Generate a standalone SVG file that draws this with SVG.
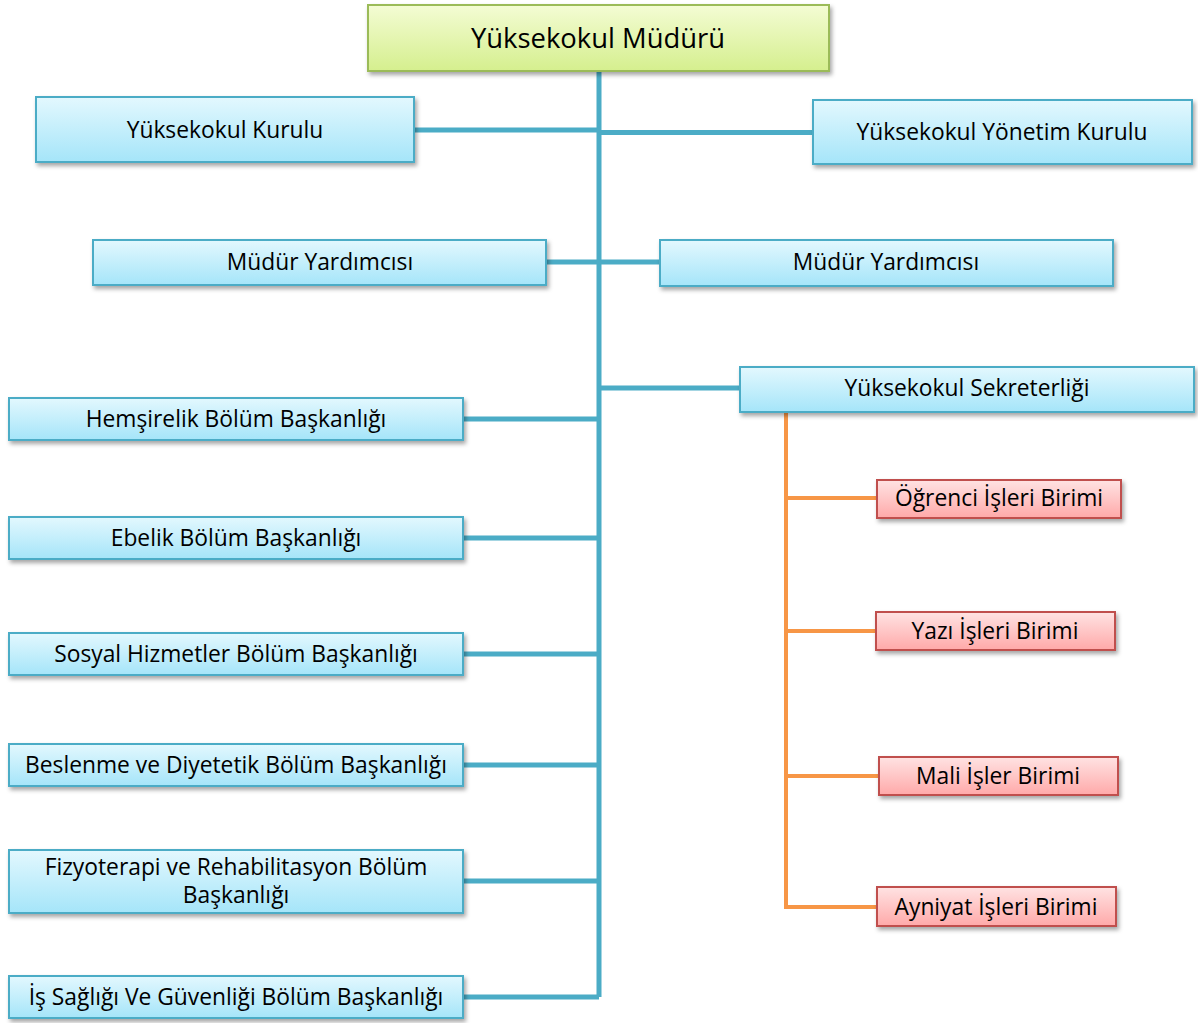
<svg xmlns="http://www.w3.org/2000/svg" width="1198" height="1023" viewBox="0 0 1198 1023">
<defs>
<linearGradient id="gBlue" x1="0" y1="0" x2="0" y2="1"><stop offset="0" stop-color="#e3f8fe"/><stop offset="1" stop-color="#a5e5f9"/></linearGradient>
<linearGradient id="gGreen" x1="0" y1="0" x2="0" y2="1"><stop offset="0" stop-color="#f4fcd4"/><stop offset="1" stop-color="#d5ef8e"/></linearGradient>
<linearGradient id="gRed" x1="0" y1="0" x2="0" y2="1"><stop offset="0" stop-color="#ffe3e3"/><stop offset="1" stop-color="#ffa9a9"/></linearGradient>
<filter id="sh" x="-5%" y="-20%" width="112%" height="150%"><feDropShadow dx="2" dy="3" stdDeviation="2" flood-color="#000" flood-opacity="0.35"/></filter>
<style>
.b{fill:url(#gBlue);stroke:#4bacc6;stroke-width:2;filter:url(#sh)}
.g{fill:url(#gGreen);stroke:#9bbb59;stroke-width:2;filter:url(#sh)}
.r{fill:url(#gRed);stroke:#c0504d;stroke-width:2;filter:url(#sh)}
text{font-family:"Open Sans","Noto Sans",sans-serif;font-size:22.8px;fill:#000;text-anchor:middle;dominant-baseline:central;font-variant-ligatures:none}
.cb{stroke:#4bacc6;stroke-width:5;fill:none}
.co{stroke:#f79646;stroke-width:4;fill:none}
</style>
</defs>
<rect width="1198" height="1023" fill="#fff"/>
<g id="connectors">
<path class="cb" d="M599 71V997"/>
<path class="cb" d="M414 130H599"/>
<path class="cb" d="M599 132.5H813"/>
<path class="cb" d="M546 262H660"/>
<path class="cb" d="M599 388H740"/>
<path class="cb" d="M463 419H599M463 538H599M463 654H599M463 765H599M463 881H599M463 997H599"/>
<path class="co" d="M786 412V907H877"/>
<path class="co" d="M786 498H877M786 631H876M786 776H879"/>
</g>
<g id="n-mudur"><rect class="g" x="368" y="5" width="461" height="66"/><text x="598" y="37" style="font-size:27.4px">Yüksekokul Müdürü</text></g>
<g id="n-kurul"><rect class="b" x="36" y="97" width="378" height="65"/><text x="225" y="129">Yüksekokul Kurulu</text></g>
<g id="n-yonetim"><rect class="b" x="813" y="100" width="379" height="64"/><text x="1002" y="131">Yüksekokul Yönetim Kurulu</text></g>
<g id="n-myL"><rect class="b" x="93" y="240" width="453" height="45"/><text x="320" y="261">Müdür Yardımcısı</text></g>
<g id="n-myR"><rect class="b" x="660" y="240" width="453" height="46"/><text x="886" y="261">Müdür Yardımcısı</text></g>
<g id="n-sekreter"><rect class="b" x="740" y="367" width="454" height="45"/><text x="967" y="387">Yüksekokul Sekreterliği</text></g>
<g id="n-hemsirelik"><rect class="b" x="9" y="398" width="454" height="42"/><text x="236" y="418">Hemşirelik Bölüm Başkanlığı</text></g>
<g id="n-ebelik"><rect class="b" x="9" y="517" width="454" height="42"/><text x="236" y="537">Ebelik Bölüm Başkanlığı</text></g>
<g id="n-sosyal"><rect class="b" x="9" y="633" width="454" height="42"/><text x="236" y="653">Sosyal Hizmetler Bölüm Başkanlığı</text></g>
<g id="n-beslenme"><rect class="b" x="9" y="744" width="454" height="42"/><text x="236" y="764">Beslenme ve Diyetetik Bölüm Başkanlığı</text></g>
<g id="n-fizyo"><rect class="b" x="9" y="850" width="454" height="63"/><text x="236" y="866">Fizyoterapi ve Rehabilitasyon Bölüm</text><text x="236" y="894">Başkanlığı</text></g>
<g id="n-isg"><rect class="b" x="9" y="976" width="454" height="42"/><text x="236" y="996">İş Sağlığı Ve Güvenliği Bölüm Başkanlığı</text></g>
<g id="n-ogrenci"><rect class="r" x="877" y="480" width="244" height="38"/><text x="999" y="497">Öğrenci İşleri Birimi</text></g>
<g id="n-yazi"><rect class="r" x="876" y="612" width="239" height="38"/><text x="995" y="630">Yazı İşleri Birimi</text></g>
<g id="n-mali"><rect class="r" x="879" y="757" width="239" height="38"/><text x="998" y="775">Mali İşler Birimi</text></g>
<g id="n-ayniyat"><rect class="r" x="877" y="887" width="239" height="39"/><text x="996" y="906">Ayniyat İşleri Birimi</text></g>
</svg>
